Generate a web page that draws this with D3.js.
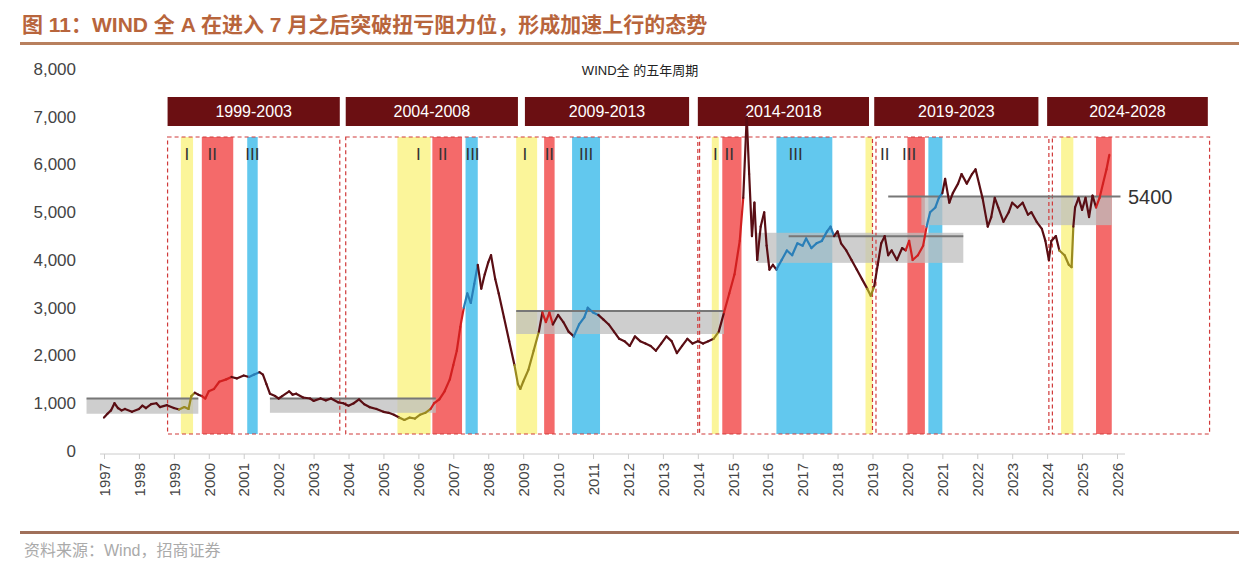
<!DOCTYPE html>
<html><head><meta charset="utf-8">
<script src="https://cdn.jsdelivr.net/npm/d3@7"></script>
<style>body{margin:0;background:#fff}svg{font-family:"Liberation Sans","Noto Sans CJK SC",sans-serif}</style>
</head><body><svg id="c" width="1259" height="578"></svg>
<script>
const yearTicks = d3.range(1997, 2027);
const yTicks = [0,1000,2000,3000,4000,5000,6000,7000,8000];
const periods = ["1999-2003","2004-2008","2009-2013","2014-2018","2019-2023","2024-2028"];
const periodStart = [1998.82,2003.92,2009.05,2014.0,2019.05,2024.0];
const periodEnd   = [2003.75,2008.85,2013.75,2018.9,2023.75,2028.6];
const boxStart = [1998.82,2003.92,2014.05,2019.1,2024.15];
const boxEnd   = [2003.75,2014.0,2019.0,2024.05,2028.65];
const bandType  = ["I","II","III","I","II","III","I","II","III","I","II","III","I","II","III","I","II"];
const bandStart = [1999.2,1999.8,2001.1,2005.4,2006.4,2007.35,2008.8,2009.6,2010.4,2014.4,2014.7,2016.25,2018.8,2020.0,2020.6,2024.4,2025.4];
const bandEnd   = [1999.55,2000.7,2001.4,2006.35,2007.25,2007.7,2009.4,2009.9,2011.2,2014.6,2015.25,2017.85,2019.0,2020.5,2021.0,2024.75,2025.85];
const labelText = ["I","II","III","I","II","III","I","II","III","I","II","III","II","III"];
const labelX    = [1999.37,2000.1,2001.25,2006.0,2006.7,2007.55,2009.05,2009.75,2010.8,2014.5,2014.9,2016.8,2019.35,2020.05];
const zoneStart = [1996.5,2001.75,2008.8,2015.7,2020.4];
const zoneEnd   = [1999.7,2006.5,2014.75,2021.6,2025.85];
const zoneLow   = [780,800,2450,3940,4730];
const zoneHigh  = [1100,1100,2930,4570,5330];
const lineStart = [1996.5,2001.75,2008.8,2016.6,2019.45];
const lineEnd   = [1999.7,2006.5,2014.75,2021.6,2026.1];
const lineVal   = [1100,1100,2930,4500,5330];
const series = [
[1997.0,700],[1997.1,780],[1997.2,850],[1997.3,1000],[1997.4,900],[1997.5,850],[1997.6,880],[1997.8,820],[1998.0,880],[1998.1,950],[1998.2,900],[1998.35,980],[1998.5,1000],[1998.6,920],[1998.8,960],[1999.0,900],[1999.15,870],[1999.3,920],[1999.42,880],[1999.5,1150],[1999.6,1220],[1999.7,1180],[1999.8,1150],[1999.9,1100],[2000.0,1250],[2000.15,1300],[2000.3,1450],[2000.5,1500],[2000.65,1550],[2000.8,1520],[2001.0,1580],[2001.15,1550],[2001.3,1600],[2001.45,1650],[2001.55,1600],[2001.65,1400],[2001.75,1200],[2001.9,1150],[2002.0,1100],[2002.1,1150],[2002.3,1250],[2002.4,1180],[2002.5,1200],[2002.7,1120],[2002.9,1100],[2003.0,1050],[2003.2,1100],[2003.35,1060],[2003.5,1100],[2003.7,1020],[2003.85,1000],[2004.0,950],[2004.15,1000],[2004.3,1080],[2004.45,980],[2004.6,920],[2004.8,880],[2005.0,820],[2005.15,800],[2005.3,760],[2005.45,700],[2005.6,650],[2005.75,700],[2005.9,680],[2006.05,760],[2006.2,800],[2006.35,880],[2006.45,1000],[2006.6,1080],[2006.75,1250],[2006.9,1500],[2007.0,1800],[2007.1,2100],[2007.2,2600],[2007.3,3000],[2007.4,3300],[2007.5,3100],[2007.6,3500],[2007.7,3900],[2007.8,3400],[2007.9,3700],[2008.0,3950],[2008.08,4100],[2008.2,3600],[2008.3,3300],[2008.45,2800],[2008.6,2300],[2008.75,1800],[2008.85,1400],[2008.92,1300],[2009.0,1450],[2009.15,1700],[2009.3,2100],[2009.45,2500],[2009.55,2900],[2009.65,2700],[2009.75,2900],[2009.85,2650],[2010.0,2850],[2010.15,2700],[2010.3,2500],[2010.45,2400],[2010.6,2650],[2010.75,2800],[2010.85,3000],[2011.0,2900],[2011.15,2850],[2011.3,2750],[2011.45,2650],[2011.6,2500],[2011.75,2350],[2011.9,2300],[2012.05,2200],[2012.2,2400],[2012.35,2300],[2012.5,2250],[2012.65,2200],[2012.8,2100],[2012.95,2250],[2013.1,2400],[2013.25,2300],[2013.4,2050],[2013.55,2200],[2013.7,2350],[2013.85,2250],[2014.0,2300],[2014.15,2250],[2014.3,2300],[2014.45,2350],[2014.6,2500],[2014.75,2900],[2014.9,3300],[2015.05,3700],[2015.2,4400],[2015.3,5300],[2015.4,7000],[2015.47,5800],[2015.55,4500],[2015.62,5200],[2015.7,4000],[2015.8,4700],[2015.9,5000],[2015.97,4300],[2016.05,3800],[2016.15,3900],[2016.25,3800],[2016.4,4000],[2016.55,4200],[2016.7,4100],[2016.85,4350],[2017.0,4300],[2017.1,4450],[2017.25,4250],[2017.4,4350],[2017.55,4400],[2017.7,4600],[2017.8,4700],[2017.9,4500],[2018.0,4600],[2018.1,4350],[2018.25,4200],[2018.4,4000],[2018.55,3800],[2018.7,3600],[2018.85,3400],[2018.95,3250],[2019.05,3450],[2019.15,3900],[2019.25,4350],[2019.35,4500],[2019.45,4100],[2019.55,4200],[2019.7,4000],[2019.85,4250],[2019.95,4200],[2020.05,4400],[2020.15,4000],[2020.3,4100],[2020.45,4300],[2020.55,4700],[2020.65,5000],[2020.8,5100],[2020.9,5300],[2021.0,5400],[2021.08,5700],[2021.2,5200],[2021.3,5400],[2021.45,5600],[2021.55,5800],[2021.7,5600],[2021.85,5800],[2021.95,5900],[2022.05,5600],[2022.15,5300],[2022.3,4700],[2022.4,4900],[2022.5,5300],[2022.6,5100],[2022.75,4800],[2022.9,5000],[2023.0,5200],[2023.15,5100],[2023.3,5200],[2023.45,4950],[2023.55,5000],[2023.7,4800],[2023.85,4650],[2023.95,4400],[2024.05,4000],[2024.12,4400],[2024.25,4500],[2024.35,4200],[2024.5,4100],[2024.62,3900],[2024.7,3850],[2024.75,4700],[2024.8,5100],[2024.9,5300],[2025.0,5050],[2025.1,5300],[2025.2,4900],[2025.3,5350],[2025.4,5100],[2025.5,5300],[2025.6,5600],[2025.7,5900],[2025.78,6200]
];

const svg = d3.select("#c");
const x = d3.scaleLinear().domain([1997,2026]).range([104,1117]);
const y = d3.scaleLinear().domain([0,8000]).range([451,69]);
const bandColor = {"I":"#fbf59a","II":"#f46a6a","III":"#62c8ee"};
const lineColor = {"I":"#9a8a20","II":"#d22020","III":"#2a7fb8"};

svg.append("text").attr("x",22).attr("y",32).attr("fill","#b8653c").attr("font-size",21).attr("font-weight","bold")
  .text("图 11：WIND 全 A 在进入 7 月之后突破扭亏阻力位，形成加速上行的态势");
svg.append("rect").attr("x",20).attr("y",42).attr("width",1219).attr("height",3).attr("fill","#b8805e");
svg.append("text").attr("x",640).attr("y",75).attr("text-anchor","middle").attr("font-size",13).attr("fill","#222").text("WIND全  的五年周期");

bandType.forEach((t,i)=>{
  svg.append("rect").attr("x",x(bandStart[i])).attr("width",x(bandEnd[i])-x(bandStart[i]))
    .attr("y",137).attr("height",297).attr("fill",bandColor[t]);
});
labelText.forEach((t,i)=>{
  svg.append("text").attr("x",x(labelX[i])).attr("y",160).attr("text-anchor","middle")
    .attr("font-size",17).attr("fill","#333").text(t);
});
zoneStart.forEach((s,i)=>{
  svg.append("rect").attr("x",x(s)).attr("width",x(zoneEnd[i])-x(s)).attr("y",y(zoneHigh[i]))
    .attr("height",y(zoneLow[i])-y(zoneHigh[i])).attr("fill","#bdbdbd").attr("opacity",0.75);
});
boxStart.forEach((s,i)=>{
  svg.append("rect").attr("x",x(s)).attr("width",x(boxEnd[i])-x(s)).attr("y",137).attr("height",297)
    .attr("fill","none").attr("stroke","#d03a3a").attr("stroke-width",1.2).attr("stroke-dasharray","4,3");
});
periods.forEach((p,i)=>{
  const x0=x(periodStart[i]), x1=x(periodEnd[i]);
  svg.append("rect").attr("x",x0).attr("y",97).attr("width",x1-x0).attr("height",29).attr("fill","#6b0f12");
  svg.append("text").attr("x",(x0+x1)/2).attr("y",117).attr("text-anchor","middle").attr("fill","#fff").attr("font-size",16).text(p);
});
const ya = svg.append("g").attr("transform","translate(104,0)")
  .call(d3.axisLeft(y).tickValues(yTicks).tickFormat(d3.format(",")).tickSize(0).tickPadding(28));
ya.select(".domain").remove();
ya.selectAll("text").attr("font-size",17).attr("fill","#444");
const xa = svg.append("g").attr("transform","translate(0,"+(y(0)+3)+")")
  .call(d3.axisBottom(x).tickValues(yearTicks).tickFormat(d3.format("d")).tickSize(5));
xa.select(".domain").attr("stroke","#ccc").attr("d","M100,0H1125");
xa.selectAll("line").attr("stroke","#ccc");
xa.selectAll("text").attr("font-size",15).attr("fill","#444").attr("transform","rotate(-90)")
  .attr("text-anchor","end").attr("x",-9).attr("y",0).attr("dy","0.35em");
lineStart.forEach((s,i)=>{
  svg.append("line").attr("x1",x(s)).attr("x2",x(lineEnd[i])).attr("y1",y(lineVal[i])).attr("y2",y(lineVal[i]))
    .attr("stroke","#777").attr("stroke-width",2);
});
svg.append("text").attr("x",1128).attr("y",204).attr("font-size",20).attr("fill","#333").text("5400");
function typeAt(d){for(let i=0;i<bandStart.length;i++){if(d>=bandStart[i]&&d<=bandEnd[i])return bandType[i];}return null;}
for(let i=1;i<series.length;i++){
  const a=series[i-1], b=series[i];
  const t=typeAt((a[0]+b[0])/2);
  svg.append("line").attr("x1",x(a[0])).attr("y1",y(a[1])).attr("x2",x(b[0])).attr("y2",y(b[1]))
    .attr("stroke",t?lineColor[t]:"#5a0e14").attr("stroke-width",2.2).attr("stroke-linecap","round");
}
svg.append("rect").attr("x",20).attr("y",531).attr("width",1219).attr("height",3).attr("fill","#a0705a");
svg.append("text").attr("x",24).attr("y",556).attr("font-size",16).attr("fill","#aaa").text("资料来源：Wind，招商证券");
</script></body></html>
